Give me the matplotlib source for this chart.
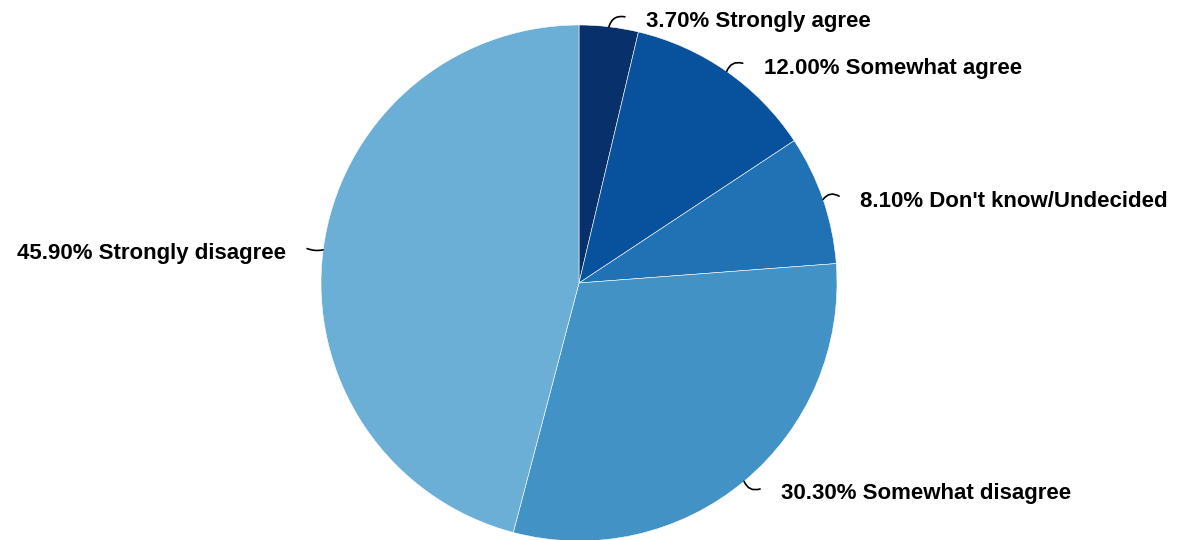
import numpy as np
import matplotlib.pyplot as plt

plt.rcParams['font.family'] = ['Liberation Sans', 'DejaVu Sans']

labels = ['Strongly agree', 'Somewhat agree', "Don't know/Undecided",
          'Somewhat disagree', 'Strongly disagree']
values = [3.70, 12.00, 8.10, 30.30, 45.90]
colors = ['#08306b', '#08519c', '#2171b5', '#4292c6', '#6baed6']

# pie geometry in pixel units
cx, cy, r = 579, 257, 258

fig = plt.figure(figsize=(11.87, 5.4), dpi=100)
ax = fig.add_axes([0, 0, 1, 1])

wedges, _ = ax.pie(values, colors=colors, startangle=90, counterclock=False,
                   center=(cx, cy), radius=r, frame=True,
                   wedgeprops=dict(edgecolor='white', linewidth=0.4))
ax.set_xlim(0, 1187)
ax.set_ylim(0, 540)
ax.set_aspect('equal')
ax.axis('off')

for w, lab, v in zip(wedges, labels, values):
    ang = np.deg2rad((w.theta1 + w.theta2) / 2)
    ex, ey = cx + r * np.cos(ang), cy + r * np.sin(ang)
    side = 1 if np.cos(ang) >= 0 else -1
    s = np.sin(ang)
    if abs(s) > 0.3:
        rad = 0.45 * side * np.sign(s)
    else:
        rad = -0.15 * side
    # connector (path runs from label end to the pie edge)
    ax.annotate('', xy=(ex, ey), xytext=(ex + side * 16, ey + 10 * s),
                arrowprops=dict(arrowstyle='-', color='black', lw=1.2,
                                shrinkA=0, shrinkB=0,
                                connectionstyle='arc3,rad=%.2f' % rad))
    ax.text(ex + side * 37, ey + 10 * s - 5, '%.2f%% %s' % (v, lab),
            ha='left' if side > 0 else 'right', va='center',
            fontsize=16, fontweight='bold', color='black')

fig.savefig('out.png', dpi=100)
